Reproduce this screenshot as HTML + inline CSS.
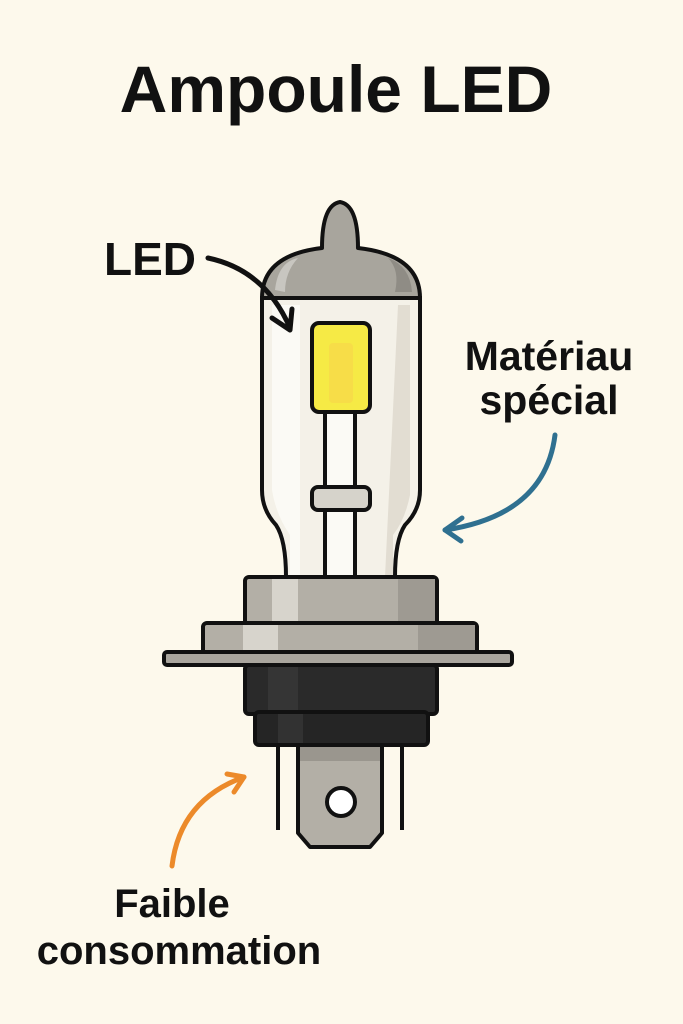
<!DOCTYPE html>
<html><head><meta charset="utf-8"><style>
body{margin:0;background:#fdf9ec;}
svg{display:block}
text{font-family:"Liberation Sans",sans-serif;font-weight:bold;fill:#111}
</style></head><body>
<svg width="683" height="1024" viewBox="0 0 683 1024" xmlns="http://www.w3.org/2000/svg">
<rect width="683" height="1024" fill="#fdf9ec"/>
<text x="336" y="112" font-size="66" text-anchor="middle">Ampoule LED</text>
<text x="104" y="275" font-size="46">LED</text>
<text x="549" y="370" font-size="41" text-anchor="middle">Matériau</text>
<text x="549" y="414" font-size="41" text-anchor="middle">spécial</text>
<text x="172" y="917" font-size="40" text-anchor="middle">Faible</text>
<text x="179" y="964" font-size="40" text-anchor="middle">consommation</text>

<!-- glass body -->
<path d="M262,298 L420,298 L420,490 Q420,510 405,525 Q395,540 395,577 L286,577 Q286,540 276,525 Q262,510 262,490 Z" fill="#f4f1e8" stroke="#111" stroke-width="4"/>
<path d="M272,305 L272,490 Q276,515 290,535 L290,577 L300,577 L300,305 Z" fill="#fbfaf5"/>
<path d="M398,305 L410,305 L410,495 Q405,520 393,535 L393,577 L385,577 Z" fill="#e2ddd2"/>
<!-- dome -->
<path d="M262,298 Q262,255 322,248 Q322,205 340,202 Q358,205 358,248 Q420,255 420,298 Z" fill="#a8a59d" stroke="#111" stroke-width="4" stroke-linejoin="round"/>
<path d="M275,290 Q278,262 298,258 Q285,272 285,292 Z" fill="#c8c6c0"/>
<path d="M395,292 Q400,270 388,258 Q410,266 412,292 Z" fill="#8f8c85"/>
<!-- stem -->
<rect x="325" y="410" width="30" height="167" fill="#fbfaf5" stroke="#111" stroke-width="4"/>
<rect x="312" y="487" width="58" height="23" rx="6" fill="#d6d3cb" stroke="#111" stroke-width="4"/>
<!-- LED chip -->
<rect x="312" y="323" width="58" height="89" rx="7" fill="#f6ea45" stroke="#111" stroke-width="4"/>
<rect x="329" y="343" width="24" height="60" rx="4" fill="#f7dd48"/>
<!-- base upper -->
<rect x="245" y="577" width="192" height="48" rx="4" fill="#b3afa6" stroke="#111" stroke-width="4"/>
<rect x="272" y="579" width="26" height="44" fill="#d7d4cc"/>
<rect x="398" y="579" width="37" height="44" fill="#9e9a92"/>
<!-- flange -->
<rect x="203" y="623" width="274" height="31" rx="4" fill="#b3afa6" stroke="#111" stroke-width="4"/>
<rect x="243" y="625" width="35" height="27" fill="#d7d4cc"/>
<rect x="418" y="625" width="57" height="27" fill="#9e9a92"/>
<rect x="164" y="652" width="348" height="13" rx="3" fill="#aaa69e" stroke="#111" stroke-width="4"/>
<!-- black parts -->
<rect x="245" y="665" width="192" height="49" rx="4" fill="#2a2a2a" stroke="#111" stroke-width="4"/>
<rect x="268" y="667" width="30" height="45" fill="#353535"/>
<rect x="255" y="712" width="173" height="33" rx="4" fill="#252525" stroke="#111" stroke-width="4"/>
<rect x="278" y="714" width="25" height="29" fill="#323232"/>
<!-- pins -->
<line x1="278" y1="745" x2="278" y2="830" stroke="#111" stroke-width="4"/>
<line x1="402" y1="745" x2="402" y2="830" stroke="#111" stroke-width="4"/>
<path d="M298,745 L382,745 L382,833 L370,847 L310,847 L298,833 Z" fill="#b3afa6" stroke="#111" stroke-width="4" stroke-linejoin="round"/>
<rect x="300" y="747" width="80" height="14" fill="#9a968e"/>
<circle cx="341" cy="802" r="14" fill="#fff" stroke="#111" stroke-width="4"/>
<!-- arrows -->
<path d="M208,258 Q265,270 290,328" fill="none" stroke="#111" stroke-width="5" stroke-linecap="round"/>
<path d="M272,318 L290,330 L292,309" fill="none" stroke="#111" stroke-width="5" stroke-linecap="round" stroke-linejoin="round"/>
<path d="M555,435 Q545,515 445,530" fill="none" stroke="#2f7090" stroke-width="5" stroke-linecap="round"/>
<path d="M462,518 L445,530 L461,541" fill="none" stroke="#2f7090" stroke-width="5" stroke-linecap="round" stroke-linejoin="round"/>
<path d="M172,866 Q180,800 244,777" fill="none" stroke="#ec8a2a" stroke-width="5" stroke-linecap="round"/>
<path d="M227,774 L244,777 L234,792" fill="none" stroke="#ec8a2a" stroke-width="5" stroke-linecap="round" stroke-linejoin="round"/>
</svg>
</body></html>
